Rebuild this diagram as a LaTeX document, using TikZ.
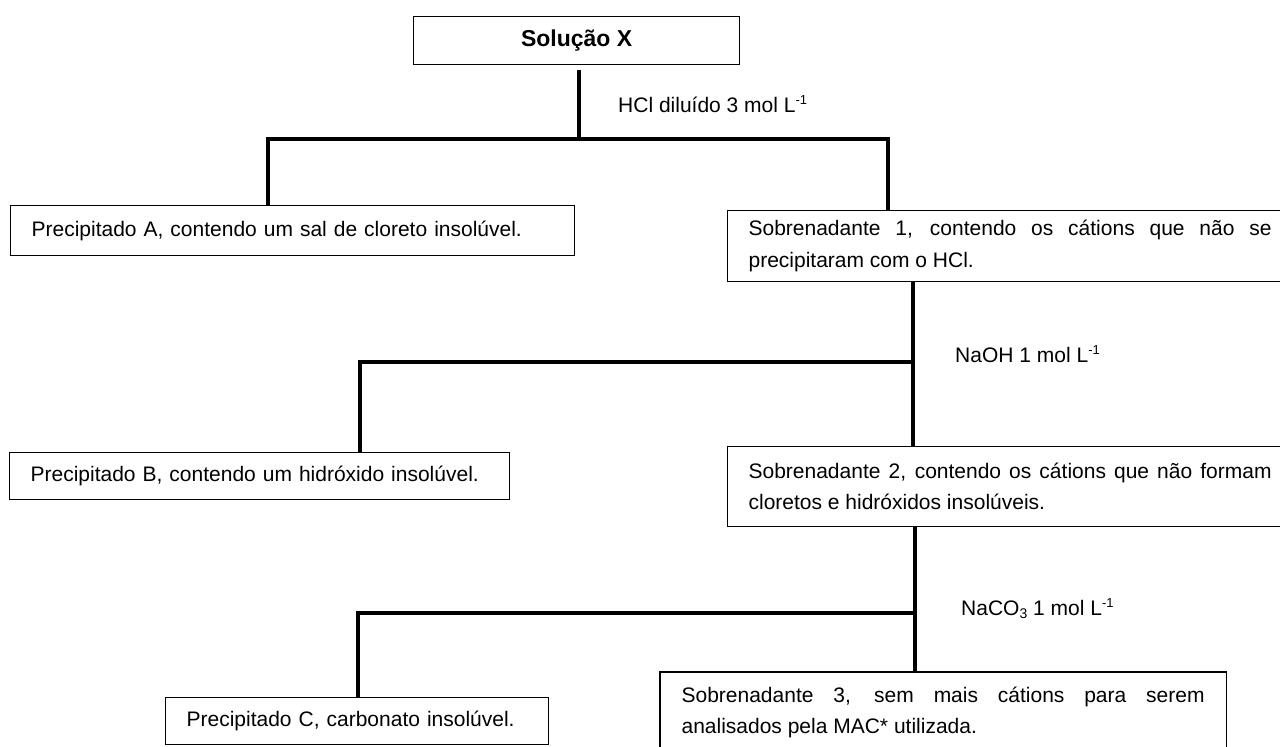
\documentclass[tikz,border=0pt]{standalone}
\usepackage{fontspec}
\setmainfont{Liberation Sans}
\usetikzlibrary{calc}
\hyphenpenalty=10000
\exhyphenpenalty=10000
\newcommand{\supsmall}[1]{\raisebox{8pt}{\fontsize{13}{13}\selectfont #1}}
\newcommand{\subsmall}[1]{\raisebox{-3pt}{\fontsize{14}{14}\selectfont #1}}
\begin{document}
\begin{tikzpicture}[x=1pt,y=-1pt,
  txtfont/.style={font=\fontsize{21}{31.5}\selectfont},
  box/.style={draw=black, line width=1.2pt, rectangle, txtfont, inner xsep=21pt, inner ysep=0pt, anchor=north west, align=left},
  sbox/.style={box, text width=523pt, align=justify},
  lbl/.style={txtfont, inner sep=0pt, anchor=base west},
  flow/.style={draw=black, line width=3.3pt}
]
\useasboundingbox (0,0) rectangle (1280,747);
\fill[white] (0,0) rectangle (1280,747);
\clip (0,0) rectangle (1280,747);

% boxes
\node[box, minimum width=326pt, minimum height=48pt, align=center, inner xsep=0pt,
      font=\fontsize{23}{28}\selectfont\bfseries] (sx) at (413,16) {Solução X};
\node[box, text width=522pt, minimum height=50pt] (A) at (10,205)
  {Precipitado A, contendo um sal de cloreto insolúvel.};
\node[sbox, minimum height=71pt] (S1) at (727,210)
  {Sobrenadante 1, contendo os cátions que não se\linebreak precipitaram com o HCl.};
\node[box, text width=458pt, minimum height=47pt] (B) at (9,452)
  {Precipitado B, contendo um hidróxido insolúvel.};
\node[sbox, minimum height=80pt] (S2) at (727,446)
  {Sobrenadante 2, contendo os cátions que não formam cloretos e hidróxidos insolúveis.};
\node[box, text width=341pt, minimum height=47pt] (C) at (165,697)
  {Precipitado C, carbonato insolúvel.};
\node[sbox, draw=none, inner ysep=14pt] (S3) at (660,672)
  {Sobrenadante 3, sem mais cátions para serem\linebreak analisados pela MAC* utilizada.};
\draw[line width=1.2pt] (S3.north west) rectangle (S3.north east |- 0,800);

% labels
\node[lbl] (l1) at (618,112) {HCl diluído 3 mol L\supsmall{-1}};
\node[lbl] (l2) at (955,362) {NaOH 1 mol L\supsmall{-1}};
\node[lbl] (l3) at (961,615) {NaCO\subsmall{3} 1 mol L\supsmall{-1}};

% junction coordinates
\coordinate (j1) at (579,139);
\coordinate (h1L) at (268,139);
\coordinate (h1R) at (888,139);
\coordinate (j2) at (913,362);
\coordinate (h2L) at (360,362);
\coordinate (j3) at (915,613);
\coordinate (h3L) at (358,613);

% connectors
\draw[flow, shorten <=5pt] (sx.south -| j1) -- (j1);
\draw[flow] (A.north -| h1L) -- (h1L) -- (h1R) -- (S1.north -| h1R);
\draw[flow] (S1.south -| j2) -- (S2.north -| j2);
\draw[flow] (j2) -- (h2L) -- (B.north -| h2L);
\draw[flow] (S2.south -| j3) -- (S3.north -| j3);
\draw[flow] (j3) -- (h3L) -- (C.north -| h3L);
\end{tikzpicture}
\end{document}
